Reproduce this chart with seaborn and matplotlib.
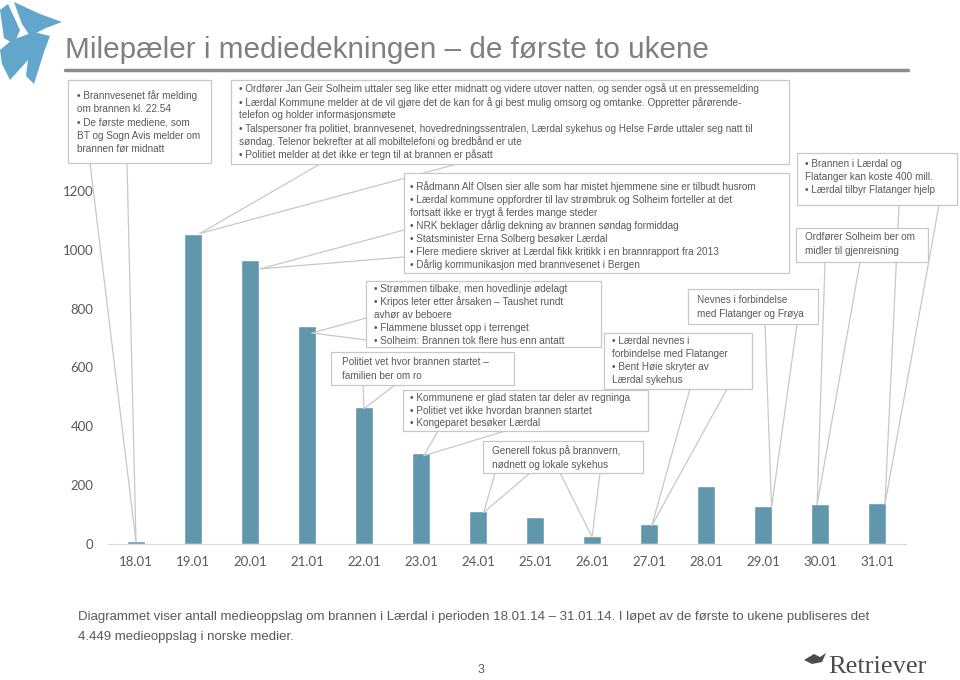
import numpy as np
import pandas as pd
import seaborn as sns
import matplotlib.pyplot as plt
from matplotlib.patches import Rectangle, Polygon
from matplotlib.lines import Line2D
from matplotlib.transforms import Affine2D

# data lest av grafen
datoer = ["18.01", "19.01", "20.01", "21.01", "22.01", "23.01", "24.01",
          "25.01", "26.01", "27.01", "28.01", "29.01", "30.01", "31.01"]
oppslag = [10, 1055, 965, 742, 466, 310, 112, 92, 27, 68, 198, 128, 137, 139]

tittel = "Milepæler i mediedekningen \u2013 de første to ukene"
bunntekst = ["Diagrammet viser antall medieoppslag om brannen i Lærdal i perioden 18.01.14 \u2013 31.01.14. I løpet av de første to ukene publiseres det",
             "4.449 medieoppslag i norske medier."]

tekst_a = ["\u2022 Brannvesenet får melding", "om brannen kl. 22.54", "\u2022 De første mediene, som",
           "BT og Sogn Avis melder om", "brannen før midnatt"]
tekst_b = ["\u2022 Ordfører Jan Geir Solheim uttaler seg like etter midnatt og videre utover natten, og sender også ut en pressemelding",
           "\u2022 Lærdal Kommune melder at de vil gjøre det de kan for å gi best mulig omsorg og omtanke. Oppretter pårørende-",
           "telefon og holder informasjonsmøte",
           "\u2022 Talspersoner fra politiet, brannvesenet, hovedredningssentralen, Lærdal sykehus og Helse Førde uttaler seg natt til",
           "søndag. Telenor bekrefter at all mobiltelefoni og bredbånd er ute",
           "\u2022 Politiet melder at det ikke er tegn til at brannen er påsatt"]
tekst_c = ["\u2022 Rådmann Alf Olsen sier alle som har mistet hjemmene sine er tilbudt husrom",
           "\u2022 Lærdal kommune oppfordrer til lav strømbruk og Solheim forteller at det",
           "fortsatt ikke er trygt å ferdes mange steder",
           "\u2022 NRK beklager dårlig dekning av brannen søndag formiddag",
           "\u2022 Statsminister Erna Solberg besøker Lærdal",
           "\u2022 Flere mediere skriver at Lærdal fikk kritikk i en brannrapport fra 2013",
           "\u2022 Dårlig kommunikasjon med brannvesenet i Bergen"]
tekst_d = ["\u2022 Strømmen tilbake, men hovedlinje ødelagt",
           "\u2022 Kripos leter etter årsaken \u2013 Taushet rundt",
           "avhør av beboere",
           "\u2022 Flammene blusset opp i terrenget",
           "\u2022 Solheim: Brannen tok flere hus enn antatt"]
tekst_e = ["Politiet vet hvor brannen startet \u2013", "familien ber om ro"]
tekst_f = ["\u2022 Kommunene er glad staten tar deler av regninga",
           "\u2022 Politiet vet ikke hvordan brannen startet",
           "\u2022 Kongeparet besøker Lærdal"]
tekst_g = ["Generell fokus på brannvern,", "nødnett og lokale sykehus"]
tekst_h = ["\u2022 Lærdal nevnes i", "forbindelse med Flatanger", "\u2022 Bent Høie skryter av", "Lærdal sykehus"]
tekst_i = ["Nevnes i forbindelse", "med Flatanger og Frøya"]
tekst_j = ["\u2022 Brannen i Lærdal og", "Flatanger kan koste 400 mill.", "\u2022 Lærdal tilbyr Flatanger hjelp"]
tekst_k = ["Ordfører Solheim ber om", "midler til gjenreisning"]

blaa = "#6097ad"
kant = "#c8c8c8"
graa = "#595959"

sns.set_theme(style="white")
plt.rcParams['font.family'] = ['Liberation Sans', 'DejaVu Sans']

W, H = 960, 680
fig = plt.figure(figsize=(9.6, 6.8), dpi=100)
pix = Affine2D().scale(1 / W, -1 / H).translate(0, 1) + fig.transFigure

ax = fig.add_axes([107.5 / W, 1 - 544 / H, (905.5 - 107.5) / W, (544 - 132) / H])
sns.barplot(x=datoer, y=oppslag, color=blaa, width=0.32, saturation=1, ax=ax)
ax.set_xlim(-0.5, 13.5)
ax.set_ylim(0, 1400)
ax.set_yticks(range(0, 1201, 200))
ax.set_xlabel("")
ax.set_ylabel("")
for s in ["top", "left", "right"]:
    ax.spines[s].set_visible(False)
ax.spines["bottom"].set_color("#d9d9d9")
ax.spines["bottom"].set_linewidth(0.8)
ax.tick_params(length=0, labelsize=9.5, colors=graa)
ax.tick_params(axis="x", pad=9)
ax.tick_params(axis="y", pad=10)
for lab in ax.get_xticklabels() + ax.get_yticklabels():
    lab.set_family(["Lato", "DejaVu Sans"])


def spiss(i, dx=0.0, dy=0.0):
    # toppen av stolpe i, i pikselkoordinater (origo oppe til venstre)
    p = ax.transData.transform((i + dx, oppslag[i] - dy))
    fx, fy = fig.transFigure.inverted().transform(p)
    return fx * W, (1 - fy) * H


def hale(b1, b2, tipp, z=3):
    for b in (b1, b2):
        fig.add_artist(Line2D([b[0], tipp[0]], [b[1], tipp[1]], transform=pix,
                              color=kant, lw=0.9, zorder=z))


def boks(l, t, r, b, linjer, y0, dy, tx=None, fs=7.2, z=4):
    fig.add_artist(Rectangle((l, t), r - l, b - t, transform=pix, facecolor="white",
                             edgecolor=kant, lw=0.9, zorder=z))
    if tx is None:
        tx = l + 8
    for n, s in enumerate(linjer):
        fig.text(tx, y0 + n * dy, s, transform=pix, fontsize=fs, color=graa,
                 va="center", ha="left", zorder=z + 0.5)


# haler
hale((90, 163), (127, 163), spiss(0, 0.0, 3))
hale((320, 164), (457, 164), spiss(1, 0.12, 0))
hale((404, 230), (404, 257), spiss(2, 0.18, 30))
hale((366, 318), (366, 340), spiss(3, 0.09, 25))
hale((363, 385), (395, 385), spiss(4, 0.0, 6))
hale((438, 431), (505, 431), spiss(5, 0.05, 10))
hale((495, 473), (530, 473), spiss(6, 0.1, 5))
hale((560, 473), (600, 473), spiss(8, 0.0, 3))
hale((690, 389), (727, 389), spiss(9, 0.05, 5))
hale((765, 324), (797, 324), spiss(11, 0.15, 3))
hale((899, 205), (939, 205), spiss(13, 0.14, 3), z=2)
hale((825, 262), (860, 262), spiss(12, -0.05, 3))

# bokser
boks(68, 80, 211, 163, tekst_a, 96, 13.3, tx=77)
boks(231, 80, 789, 164, tekst_b, 89, 13.2, tx=239)
boks(404, 173, 789, 273, tekst_c, 187, 13.0, tx=410)
boks(366, 281, 601, 347, tekst_d, 289, 13.0, tx=374)
boks(331, 352, 514, 385, tekst_e, 362, 14.0, tx=342)
boks(403, 390, 648, 431, tekst_f, 398, 12.5, tx=410)
boks(483, 441, 643, 473, tekst_g, 451, 14.0, tx=492)
boks(604, 333, 752, 389, tekst_h, 341, 13.0, tx=612)
boks(688, 289, 818, 324, tekst_i, 300, 14.0, tx=697)
boks(797, 153, 957, 205, tekst_j, 164, 13.0, tx=805)
boks(796, 228, 928, 262, tekst_k, 237, 14.0, tx=805)

# tittel og strek
fig.text(65, 50, tittel, transform=pix, fontsize=21.4, color="#808080", va="center", ha="left")
fig.add_artist(Line2D([65, 908], [70, 70], transform=pix, color="#8c8c8c", lw=2.5))

# fugl oppe til venstre
fugl = [
    [(14, 2), (40, 14), (62, 22), (46, 28), (30, 36), (22, 24)],
    [(0, 10), (8, 4), (20, 30), (14, 44), (4, 38)],
    [(12, 40), (34, 32), (50, 36), (44, 52), (34, 84), (26, 76), (28, 60), (10, 80), (2, 64), (0, 50)],
]
for f in fugl:
    fig.add_artist(Polygon(f, closed=True, transform=pix, facecolor="#63a6cc",
                           edgecolor="none", zorder=2))

# bunntekst
for n, s in enumerate(bunntekst):
    fig.text(78, 617 + n * 20, s, transform=pix, fontsize=9.5, color=graa, va="center", ha="left")
fig.text(481, 670, "3", transform=pix, fontsize=9, color=graa, va="center", ha="center")

# Retriever-logo
fig.add_artist(Polygon([(804, 660), (814, 654), (820, 657), (826, 653), (822, 662), (812, 664)],
                       closed=True, transform=pix, facecolor="#4d4d4d", edgecolor="none"))
fig.text(828, 667, "Retriever", transform=pix, fontsize=19, color="#4d4d4d",
         family=["Liberation Serif", "DejaVu Serif"], va="center", ha="left")

fig.savefig("out.png", dpi=100)
